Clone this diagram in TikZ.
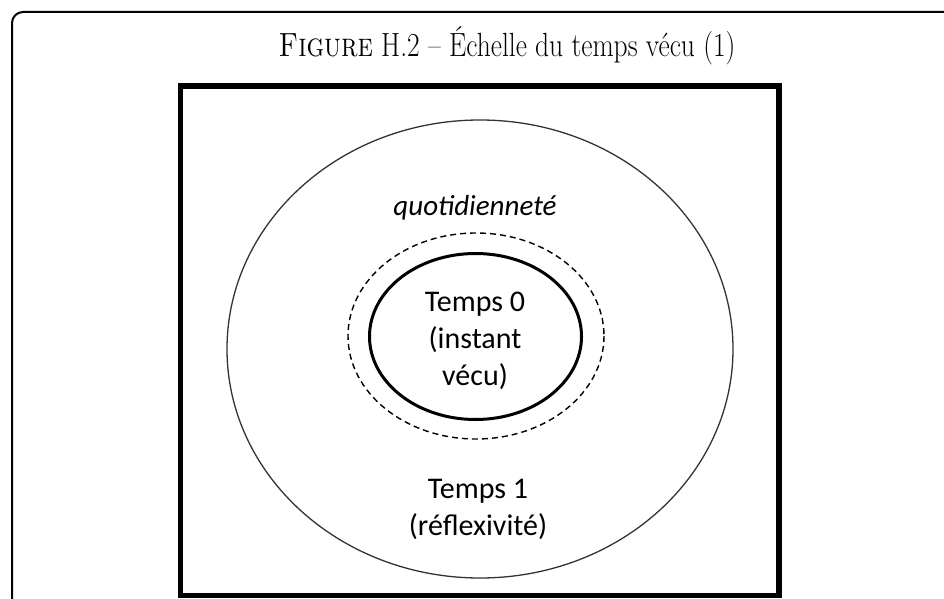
\documentclass[tikz,border=0pt]{standalone}
\usepackage{fontspec}
\newfontfamily\calib{Carlito}
\usetikzlibrary{positioning}

\tikzset{
  lbl/.style={font=\calib\fontsize{30}{37}\selectfont,align=center,inner sep=0pt},
  lblit/.style={font=\calib\itshape\fontsize{29}{35}\selectfont,inner sep=0pt}
}

\begin{document}
\begin{tikzpicture}[x=1pt,y=-1pt]
\useasboundingbox (0,0) rectangle (944,599);
\begin{scope}
\clip (0,0) rectangle (944,599);
% outer frame of the figure
\draw[line width=2pt,rounded corners=11pt] (12,640) -- (12,12) -- (990,12) -- (990,640);
\node[font=\fontsize{27.5}{32}\selectfont,anchor=base,inner sep=0pt] (title) at (507,57) {\scalebox{1}[1.22]{\textsc{Figure} H.2 -- Échelle du temps vécu (1)}};
% box round the scheme
\draw[line width=5.5pt] (180.5,86) rectangle (779,595.5);
\end{scope}
% time circles
\draw[black!80,line width=1.3pt] (480,349) ellipse [x radius=253, y radius=229];
\draw[line width=1.4pt,dash pattern=on 6pt off 4pt] (476,336) ellipse [x radius=128, y radius=103];
\draw[line width=3pt] (475.5,336.5) ellipse [x radius=106, y radius=83];
\node[lblit] (quot) at (475,208) {quotidienneté};
\node[lbl] (t0) at (475,341) {Temps 0\\(instant\\vécu)};
\node[lbl] (t1) at (478,509) {Temps 1\\(réflexivité)};
\end{tikzpicture}
\end{document}
